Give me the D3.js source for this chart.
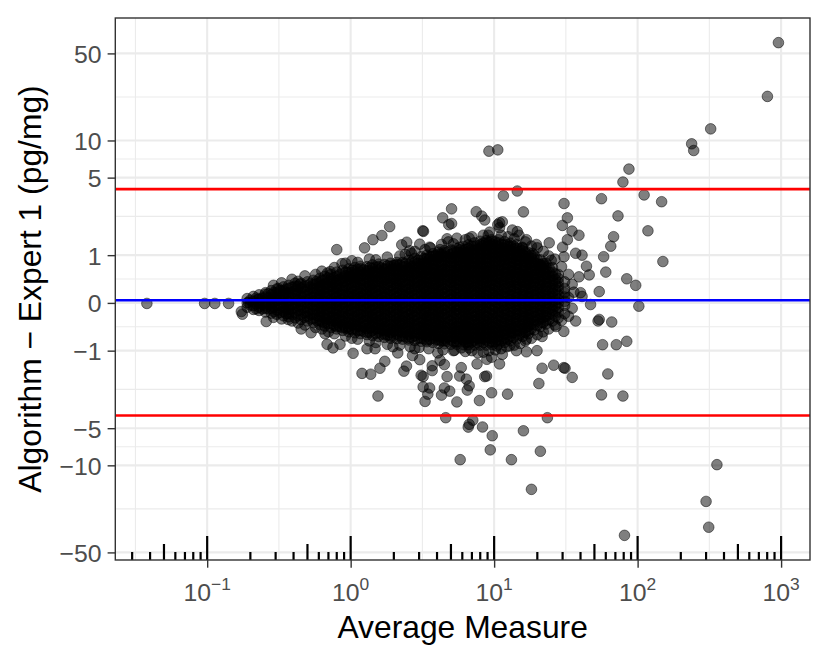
<!DOCTYPE html>
<html>
<head>
<meta charset="utf-8">
<script src="https://cdn.jsdelivr.net/npm/d3@7"></script>
<style>
  body { margin: 0; background: #fff; }
  svg { display: block; }
  text { font-family: "Liberation Sans", Arial, sans-serif; }
</style>
</head>
<body>
<div id="chart"></div>
<script>
// scattered points: [average measure, algorithm - expert 1]
const outliers = [
  [0.038,-0.01],[0.096,-0.01],[0.113,-0.01],[0.141,-0.01],[0.173,-0.16],[0.176,-0.21],[0.194,0.01],[0.224,0.06],
  [0.258,-0.35],[0.254,0.16],[0.313,0.27],[0.367,-0.31],[0.444,0.35],[0.452,-0.5],[0.53,-0.58],[0.663,-0.6],
  [0.685,-0.84],[0.753,-0.93],[0.843,-0.84],[0.8,1.15],[0.87,0.79],[0.72,0.61],[0.99,0.5],[1.04,-1.07],
  [1.2,-1.7],[1.38,-1.73],[1.6,-1.52],[1.73,-1.3],[1.55,-2.7],[1.3,-0.95],[1.97,-0.9],[1.25,1.2],
  [1.43,1.45],[1.65,1.59],[1.87,1.92],[2.03,0.75],[2.27,1.29],[2.46,1.37],[2.58,1.12],[3.18,1.76],
  [3.22,1.74],[3.55,1.22],[4.38,2.3],[5.05,2.75],[4.83,2.0],[5.5,1.5],[4.7,1.48],[6.7,1.5],
  [7.5,2.6],[8.2,2.38],[8.6,2.2],[9.2,8.2],[10.6,8.4],[11.6,3.54],[14.5,3.88],[16,2.59],
  [11.4,2.12],[10.6,2.0],[9.1,1.6],[13.4,1.79],[14.9,1.6],[16.8,1.45],[19.7,1.3],[24.2,1.35],
  [30.7,3.05],[32.4,2.3],[29.9,1.97],[34.9,1.75],[39,1.6],[56,3.35],[58,0.96],[60,0.6],
  [54,0.21],[44,0.73],[46,0.54],[41,1.0],[37,1.05],[21.5,0.73],[41,0.12],[47,-0.03],
  [40,0.19],[54,-0.31],[39,0.5],[20.7,0.76],[25,0.87],[30.7,0.96],[30,1.22],[32.4,1.45],
  [18.5,1.05],[15.7,1.22],[14.5,1.73],[10.9,1.88],[87,5.87],[79,4.6],[111,3.6],[147,3.16],
  [73,2.39],[118,1.76],[68,1.55],[65,1.25],[150,0.84],[84,0.46],[97,0.33],[102,-0.06],
  [958,61],[803,22.6],[323,12.4],[238,9.4],[246,8.3],[53,-0.34],[66,-0.36],[57,-0.85],
  [71,-0.85],[84,-0.77],[30.6,-1.5],[31.2,-1.52],[35,-1.85],[62,-1.72],[56,-2.64],[79,-2.7],
  [357,-9.87],[300,-19.5],[313,-31.4],[81,-36.5],[21.6,-1.52],[26,-1.42],[20.5,-2.1],[9.6,-2.53],
  [12.4,-2.6],[23.5,-4.1],[8.3,-4.89],[9.7,-5.76],[16,-5.25],[9.4,-7.5],[13.2,-9.0],[21,-7.7],
  [18.2,-15.6],[5.8,-9.0],[6.7,-4.65],[7.1,-4.3],[4.6,-4.1],[5.5,-3.03],[7.9,-2.95],[6.6,-4.9],
  [8.6,-1.82],[6.7,-2.2],[6.4,-1.92],[4.7,-1.82],[4.5,-2.3],[4.3,-2.65],[3.7,-1.44],[3.55,-2.3],
  [3.2,-2.25],[3.3,-3.0],[3.2,-1.82],[2.7,-1.13],[2.45,-1.45],[2.35,-1.62],[5.9,-0.93],[6.7,-0.93],
  [8.9,-1.24],[7.6,-1.38],[10.4,-0.88],[11.4,-1.1],[14.3,-1.0],[16.8,-1.03],[19.9,-1.0],[37,-0.34],
  [30.6,-0.55],[27,-0.45],[21.6,-0.66],[16.8,-0.72],[4.9,-2.45],[5.75,-1.8],[6.5,-2.4],[8.85,-1.8],
  [3.1,-1.77],[3.7,-1.6],[4.2,-1.27],[3.45,-2.6],[5.05,2.05],[9.3,1.71],[10.9,2.08],
  [1.48,-0.95],[2.13,-1.06],[2.8,-0.95],[4.05,-1.06],[5.3,-0.99],[7.7,-1.06],[9.6,-1.18],[12.8,-0.88],
  [3.03,-1.25],[4.5,-1.4],[5.9,-1.5],[10.9,-1.38],[2.8,1.1],[4.2,1.15],[5.75,1.22],[9.6,1.45],
  [4.0,0.96],[3.03,1.31]
];

// ragged fringe round the dense cloud
const fringe = [
  [0.29,0.33],[0.33,0.38],[0.39,0.45],[0.43,0.41],[0.48,0.52],[0.57,0.55],[0.63,0.62],[0.69,0.58],
  [0.77,0.7],[0.92,0.8],[1.02,0.86],[1.12,0.82],[1.35,0.9],[1.5,0.88],[1.8,0.95],[2.2,0.98],
  [2.4,1.02],[2.65,1.05],[3.3,1.15],[3.6,1.2],[4.3,1.3],[4.8,1.38],[5.2,1.32],[6.3,1.45],
  [7.0,1.55],[8.4,1.6],[11.2,1.6],[12.5,1.55],[13.8,1.48],[16.5,1.38],[18.2,1.25],[20,1.2],
  [22,1.1],[24,0.98],[26.5,0.9],[29.5,0.72],[33,0.55],[35,0.35],[33,0.1],[36,0.2],
  [0.29,-0.27],[0.33,-0.3],[0.39,-0.34],[0.43,-0.38],[0.48,-0.42],[0.57,-0.47],[0.63,-0.5],[0.7,-0.56],
  [0.77,-0.6],[0.92,-0.65],[1.02,-0.7],[1.12,-0.72],[1.35,-0.76],[1.5,-0.8],[1.8,-0.84],[2.2,-0.86],
  [2.6,-0.9],[3.0,-0.92],[3.5,-0.95],[4.4,-0.98],[5.2,-1.0],[6.3,-1.02],[7.0,-1.0],[8.4,-1.04],
  [9.2,-1.0],[10.2,-0.98],[11.2,-0.95],[12.2,-0.9],[13.8,-0.86],[15.2,-0.82],[16.5,-0.76],[18.2,-0.7],
  [20,-0.62],[22,-0.56],[24,-0.5],[26.5,-0.42],[29.5,-0.33],[33,-0.25],[35,-0.1]
];

// the dense black cloud, column by column: average measure and the differences stacked there
const coreAvg = [0.19,0.21,0.23,0.255,0.28,0.305,0.34,0.37,0.41,0.45,0.5,0.55,0.61,0.66,0.73,0.8,0.88,0.97,
  1.07,1.17,1.3,1.42,1.57,1.72,1.9,2.1,2.3,2.55,2.8,3.1,3.4,3.75,4.1,4.5,5.0,5.5,6.1,6.6,7.3,8.0,8.8,9.7,
  10.7,11.8,13,14.3,15.8,17.3,19,21,23,25.5,28,31];
const coreDiff = [
  [-0.08,0.0,0.08],
  [-0.12,-0.05,0.03,0.12],
  [-0.14,-0.08,0.0,0.07,0.15],
  [-0.17,-0.1,-0.04,0.03,0.11,0.19],
  [-0.19,-0.1,-0.02,0.07,0.15,0.23],
  [-0.21,-0.13,-0.05,0.04,0.11,0.19,0.26],
  [-0.24,-0.16,-0.08,0.0,0.07,0.15,0.23,0.3],
  [-0.26,-0.2,-0.12,-0.04,0.03,0.11,0.19,0.27,0.33],
  [-0.28,-0.18,-0.09,-0.01,0.07,0.16,0.23,0.31,0.37],
  [-0.31,-0.22,-0.13,-0.05,0.03,0.12,0.19,0.28,0.37],
  [-0.34,-0.25,-0.17,-0.09,0.0,0.07,0.15,0.24,0.32,0.4],
  [-0.37,-0.29,-0.21,-0.13,-0.05,0.03,0.11,0.19,0.27,0.35,0.43],
  [-0.41,-0.33,-0.25,-0.16,-0.09,-0.01,0.08,0.15,0.23,0.31,0.39,0.47],
  [-0.44,-0.37,-0.29,-0.21,-0.12,-0.05,0.03,0.11,0.2,0.27,0.35,0.43,0.51],
  [-0.47,-0.4,-0.33,-0.25,-0.17,-0.09,-0.01,0.07,0.15,0.24,0.31,0.39,0.47,0.55],
  [-0.5,-0.45,-0.37,-0.29,-0.21,-0.13,-0.04,0.03,0.11,0.19,0.28,0.35,0.43,0.51,0.6],
  [-0.53,-0.47,-0.41,-0.33,-0.25,-0.17,-0.09,0.0,0.07,0.15,0.23,0.31,0.4,0.47,0.55,0.64],
  [-0.56,-0.5,-0.45,-0.37,-0.29,-0.21,-0.13,-0.05,0.03,0.12,0.19,0.27,0.35,0.44,0.51,0.59,0.67],
  [-0.58,-0.49,-0.41,-0.33,-0.25,-0.16,-0.09,-0.01,0.07,0.15,0.23,0.32,0.39,0.47,0.55,0.63,0.7],
  [-0.6,-0.53,-0.45,-0.37,-0.29,-0.21,-0.13,-0.05,0.04,0.11,0.19,0.27,0.35,0.43,0.52,0.59,0.67,0.73],
  [-0.62,-0.57,-0.49,-0.41,-0.33,-0.25,-0.17,-0.09,-0.01,0.07,0.16,0.23,0.31,0.39,0.47,0.56,0.63,0.72],
  [-0.64,-0.53,-0.45,-0.37,-0.28,-0.21,-0.13,-0.05,0.03,0.11,0.2,0.27,0.35,0.43,0.51,0.59,0.68,0.76],
  [-0.66,-0.57,-0.49,-0.41,-0.33,-0.25,-0.17,-0.08,-0.01,0.07,0.15,0.23,0.31,0.4,0.47,0.55,0.63,0.72,0.78],
  [-0.68,-0.61,-0.53,-0.45,-0.37,-0.29,-0.21,-0.13,-0.04,0.03,0.11,0.19,0.27,0.35,0.44,0.51,0.59,0.67,0.77],
  [-0.7,-0.65,-0.57,-0.49,-0.41,-0.33,-0.24,-0.17,-0.09,-0.01,0.07,0.15,0.23,0.32,0.39,0.47,0.55,0.64,0.72,0.8],
  [-0.71,-0.61,-0.53,-0.45,-0.37,-0.29,-0.21,-0.12,-0.05,0.03,0.11,0.19,0.28,0.35,0.43,0.51,0.59,0.67,0.77,0.82],
  [-0.72,-0.65,-0.57,-0.49,-0.4,-0.33,-0.25,-0.17,-0.09,0.0,0.07,0.15,0.23,0.31,0.39,0.48,0.55,0.63,0.72,0.82],
  [-0.74,-0.7,-0.61,-0.53,-0.45,-0.36,-0.29,-0.21,-0.13,-0.05,0.03,0.12,0.19,0.27,0.35,0.43,0.52,0.59,0.67,0.77,0.87],
  [-0.75,-0.65,-0.57,-0.49,-0.41,-0.33,-0.25,-0.16,-0.09,-0.01,0.07,0.15,0.24,0.31,0.39,0.47,0.56,0.63,0.72,0.82,0.92],
  [-0.77,-0.7,-0.61,-0.53,-0.45,-0.37,-0.29,-0.2,-0.13,-0.05,0.03,0.11,0.19,0.28,0.35,0.43,0.51,0.6,0.67,0.77,0.87,0.96],
  [-0.78,-0.74,-0.65,-0.57,-0.49,-0.41,-0.32,-0.25,-0.17,-0.09,-0.01,0.08,0.15,0.23,0.31,0.39,0.47,0.55,0.64,0.72,0.82,0.92,1.0],
  [-0.8,-0.7,-0.61,-0.53,-0.45,-0.37,-0.29,-0.21,-0.13,-0.04,0.03,0.11,0.19,0.27,0.36,0.43,0.51,0.59,0.67,0.77,0.87,0.97,1.04],
  [-0.82,-0.74,-0.65,-0.57,-0.48,-0.41,-0.33,-0.25,-0.17,-0.09,-0.01,0.07,0.16,0.23,0.31,0.39,0.47,0.55,0.63,0.72,0.82,0.93,1.02,1.08],
  [-0.83,-0.76,-0.7,-0.61,-0.53,-0.45,-0.37,-0.28,-0.21,-0.13,-0.05,0.03,0.11,0.19,0.27,0.35,0.44,0.51,0.59,0.67,0.77,0.87,0.97,1.07,1.12],
  [-0.84,-0.74,-0.65,-0.57,-0.49,-0.41,-0.33,-0.24,-0.17,-0.09,-0.01,0.07,0.15,0.23,0.32,0.39,0.47,0.55,0.63,0.72,0.82,0.92,1.02,1.14],
  [-0.84,-0.78,-0.7,-0.61,-0.53,-0.45,-0.37,-0.29,-0.2,-0.13,-0.05,0.03,0.11,0.19,0.27,0.35,0.43,0.52,0.59,0.67,0.77,0.87,0.97,1.07,1.18],
  [-0.85,-0.74,-0.65,-0.57,-0.49,-0.41,-0.33,-0.25,-0.16,-0.09,-0.01,0.07,0.15,0.23,0.31,0.4,0.47,0.55,0.63,0.72,0.82,0.92,1.02,1.13,1.24],
  [-0.85,-0.78,-0.7,-0.61,-0.53,-0.45,-0.37,-0.29,-0.21,-0.12,-0.05,0.03,0.11,0.19,0.27,0.35,0.43,0.51,0.6,0.67,0.77,0.87,0.97,1.07,1.18,1.29],
  [-0.86,-0.74,-0.65,-0.57,-0.49,-0.41,-0.33,-0.25,-0.17,-0.08,-0.01,0.07,0.15,0.23,0.31,0.39,0.48,0.55,0.63,0.72,0.82,0.92,1.02,1.13,1.24,1.35],
  [-0.86,-0.78,-0.7,-0.61,-0.53,-0.45,-0.37,-0.29,-0.21,-0.13,-0.04,0.03,0.11,0.19,0.27,0.35,0.43,0.51,0.59,0.68,0.77,0.87,0.97,1.07,1.18,1.29,1.4],
  [-0.86,-0.74,-0.65,-0.57,-0.49,-0.41,-0.33,-0.25,-0.17,-0.09,0.0,0.07,0.15,0.23,0.31,0.39,0.47,0.56,0.63,0.72,0.82,0.92,1.02,1.13,1.24,1.35,1.42],
  [-0.85,-0.78,-0.7,-0.61,-0.53,-0.45,-0.37,-0.29,-0.21,-0.13,-0.05,0.04,0.11,0.19,0.27,0.35,0.43,0.51,0.59,0.67,0.76,0.87,0.97,1.07,1.18,1.29,1.4],
  [-0.84,-0.74,-0.65,-0.57,-0.49,-0.41,-0.33,-0.25,-0.17,-0.09,-0.01,0.08,0.15,0.23,0.31,0.39,0.47,0.55,0.64,0.72,0.82,0.92,1.02,1.13,1.24,1.35,1.45],
  [-0.8,-0.7,-0.61,-0.53,-0.45,-0.37,-0.29,-0.21,-0.13,-0.05,0.03,0.12,0.19,0.27,0.35,0.43,0.51,0.59,0.67,0.77,0.87,0.97,1.07,1.18,1.29,1.39],
  [-0.76,-0.65,-0.57,-0.49,-0.41,-0.33,-0.25,-0.17,-0.08,-0.01,0.07,0.15,0.23,0.31,0.39,0.47,0.55,0.63,0.72,0.82,0.92,1.02,1.13,1.24,1.34],
  [-0.72,-0.61,-0.53,-0.45,-0.37,-0.29,-0.21,-0.13,-0.05,0.03,0.11,0.19,0.28,0.35,0.43,0.51,0.59,0.67,0.77,0.87,0.97,1.07,1.18,1.29],
  [-0.66,-0.57,-0.49,-0.41,-0.33,-0.25,-0.17,-0.09,-0.01,0.07,0.15,0.23,0.31,0.39,0.47,0.55,0.63,0.72,0.82,0.92,1.02,1.12,1.2],
  [-0.6,-0.53,-0.45,-0.37,-0.29,-0.21,-0.13,-0.05,0.03,0.11,0.19,0.27,0.35,0.43,0.51,0.59,0.67,0.77,0.87,0.97,1.07],
  [-0.52,-0.41,-0.33,-0.25,-0.17,-0.09,-0.01,0.07,0.15,0.23,0.31,0.39,0.47,0.55,0.63,0.72,0.82,0.92,1.0],
  [-0.45,-0.37,-0.29,-0.21,-0.13,-0.05,0.03,0.11,0.19,0.27,0.35,0.43,0.51,0.59,0.67,0.77,0.88],
  [-0.4,-0.33,-0.25,-0.17,-0.09,-0.01,0.07,0.15,0.23,0.31,0.39,0.47,0.55,0.63,0.72,0.8],
  [-0.34,-0.21,-0.13,-0.05,0.03,0.11,0.19,0.27,0.35,0.43,0.51,0.6,0.7],
  [-0.28,-0.17,-0.09,0.0,0.07,0.15,0.24,0.31,0.39,0.47,0.55],
  [-0.2,-0.05,0.03,0.11,0.19,0.27,0.4]
];

// second layer of the cloud, between the columns above
const coreAvgB = [0.2,0.22,0.242,0.267,0.292,0.322,0.355,0.39,0.43,0.475,0.525,0.58,0.635,0.695,0.765,0.84,0.925,
  1.02,1.12,1.235,1.36,1.5,1.645,1.81,2.0,2.2,2.42,2.67,2.95,3.25,3.57,3.92,4.3,4.75,5.25,5.8,6.35,6.95,7.65,
  8.4,9.25,10.2,11.25,12.4,13.65,15.05,16.5,18.1,20,22,24.2,26.7];
const coreDiffB = [
  [-0.04,0.05],
  [-0.11,-0.02,0.09],
  [-0.11,-0.02,0.09],
  [-0.11,-0.02,0.09,0.17],
  [-0.16,-0.07,0.02,0.11,0.19],
  [-0.18,-0.1,-0.02,0.07,0.16,0.23],
  [-0.2,-0.11,-0.02,0.09,0.19,0.26],
  [-0.21,-0.11,-0.02,0.09,0.19,0.29],
  [-0.24,-0.14,-0.05,0.05,0.15,0.24,0.31],
  [-0.27,-0.18,-0.08,0.02,0.12,0.21,0.31],
  [-0.3,-0.21,-0.11,-0.02,0.09,0.19,0.29,0.36],
  [-0.33,-0.23,-0.13,-0.04,0.06,0.16,0.26,0.36,0.41],
  [-0.36,-0.26,-0.16,-0.07,0.03,0.13,0.23,0.33,0.43],
  [-0.39,-0.3,-0.2,-0.11,-0.01,0.09,0.19,0.29,0.38,0.48],
  [-0.42,-0.32,-0.22,-0.12,-0.02,0.08,0.18,0.28,0.38,0.48],
  [-0.45,-0.35,-0.25,-0.15,-0.05,0.05,0.15,0.25,0.35,0.45,0.55],
  [-0.48,-0.38,-0.28,-0.18,-0.08,0.02,0.12,0.22,0.32,0.42,0.52,0.6],
  [-0.51,-0.41,-0.31,-0.21,-0.11,-0.01,0.09,0.19,0.29,0.39,0.49,0.59,0.64],
  [-0.53,-0.43,-0.33,-0.23,-0.13,-0.03,0.07,0.17,0.27,0.37,0.47,0.57,0.66],
  [-0.55,-0.45,-0.35,-0.25,-0.15,-0.05,0.05,0.15,0.25,0.35,0.45,0.55,0.65],
  [-0.57,-0.47,-0.37,-0.27,-0.17,-0.07,0.03,0.13,0.23,0.33,0.43,0.53,0.63,0.7],
  [-0.59,-0.49,-0.39,-0.29,-0.19,-0.09,0.01,0.11,0.21,0.31,0.41,0.51,0.61,0.71],
  [-0.61,-0.51,-0.41,-0.31,-0.21,-0.11,-0.01,0.09,0.19,0.29,0.39,0.49,0.59,0.69],
  [-0.63,-0.53,-0.43,-0.33,-0.23,-0.13,-0.03,0.07,0.17,0.27,0.37,0.47,0.57,0.67,0.74],
  [-0.64,-0.54,-0.44,-0.34,-0.24,-0.14,-0.04,0.06,0.16,0.26,0.36,0.46,0.56,0.66,0.75],
  [-0.65,-0.55,-0.45,-0.35,-0.25,-0.15,-0.05,0.05,0.15,0.25,0.35,0.45,0.55,0.65,0.76],
  [-0.67,-0.57,-0.47,-0.37,-0.27,-0.17,-0.07,0.03,0.13,0.23,0.33,0.43,0.53,0.63,0.73,0.8],
  [-0.68,-0.58,-0.48,-0.38,-0.28,-0.18,-0.08,0.02,0.12,0.22,0.32,0.42,0.52,0.62,0.72,0.83],
  [-0.7,-0.6,-0.5,-0.4,-0.3,-0.2,-0.1,0.0,0.1,0.2,0.3,0.4,0.5,0.6,0.7,0.8,0.87],
  [-0.71,-0.61,-0.51,-0.41,-0.31,-0.21,-0.11,-0.01,0.09,0.19,0.29,0.39,0.49,0.59,0.69,0.8,0.91],
  [-0.72,-0.62,-0.52,-0.42,-0.32,-0.22,-0.12,-0.02,0.08,0.18,0.28,0.38,0.48,0.58,0.68,0.79,0.9,0.96],
  [-0.74,-0.64,-0.54,-0.44,-0.34,-0.24,-0.14,-0.04,0.06,0.16,0.26,0.36,0.46,0.56,0.66,0.77,0.88,0.99],
  [-0.76,-0.66,-0.56,-0.46,-0.36,-0.26,-0.16,-0.06,0.04,0.14,0.24,0.34,0.44,0.54,0.64,0.75,0.86,0.97,1.03],
  [-0.77,-0.67,-0.57,-0.47,-0.37,-0.27,-0.17,-0.07,0.03,0.13,0.23,0.33,0.43,0.53,0.63,0.74,0.85,0.96,1.07],
  [-0.78,-0.68,-0.58,-0.48,-0.38,-0.28,-0.18,-0.08,0.02,0.12,0.22,0.32,0.42,0.52,0.62,0.73,0.84,0.95,1.06,1.11],
  [-0.78,-0.68,-0.58,-0.48,-0.38,-0.28,-0.18,-0.08,0.02,0.12,0.22,0.32,0.42,0.52,0.62,0.73,0.84,0.95,1.06,1.15],
  [-0.79,-0.69,-0.59,-0.49,-0.39,-0.29,-0.19,-0.09,0.01,0.11,0.21,0.31,0.41,0.51,0.61,0.72,0.83,0.94,1.05,1.16],
  [-0.79,-0.69,-0.59,-0.49,-0.39,-0.29,-0.19,-0.09,0.01,0.11,0.21,0.31,0.41,0.51,0.61,0.72,0.83,0.94,1.05,1.16,1.25],
  [-0.8,-0.7,-0.6,-0.5,-0.4,-0.3,-0.2,-0.1,0.0,0.1,0.2,0.3,0.4,0.5,0.6,0.71,0.82,0.93,1.04,1.15,1.27],
  [-0.8,-0.7,-0.6,-0.5,-0.4,-0.3,-0.2,-0.1,0.0,0.1,0.2,0.3,0.4,0.5,0.6,0.71,0.82,0.93,1.04,1.15,1.26,1.34],
  [-0.79,-0.69,-0.59,-0.49,-0.39,-0.29,-0.19,-0.09,0.01,0.11,0.21,0.31,0.41,0.51,0.61,0.72,0.83,0.94,1.05,1.16,1.27,1.36],
  [-0.78,-0.68,-0.58,-0.48,-0.38,-0.28,-0.18,-0.08,0.02,0.12,0.22,0.32,0.42,0.52,0.62,0.73,0.84,0.95,1.06,1.17,1.28,1.38],
  [-0.76,-0.66,-0.56,-0.46,-0.36,-0.26,-0.16,-0.06,0.04,0.14,0.24,0.34,0.44,0.54,0.64,0.75,0.86,0.97,1.08,1.19,1.3],
  [-0.72,-0.62,-0.52,-0.42,-0.32,-0.22,-0.12,-0.02,0.08,0.18,0.28,0.38,0.48,0.58,0.68,0.79,0.9,1.01,1.12,1.23,1.3],
  [-0.68,-0.58,-0.48,-0.38,-0.28,-0.18,-0.08,0.02,0.12,0.22,0.32,0.42,0.52,0.62,0.72,0.83,0.94,1.05,1.16,1.25],
  [-0.63,-0.53,-0.43,-0.33,-0.23,-0.13,-0.03,0.07,0.17,0.27,0.37,0.47,0.57,0.67,0.78,0.89,1.0,1.1,1.18],
  [-0.57,-0.47,-0.37,-0.27,-0.17,-0.07,0.03,0.13,0.23,0.33,0.43,0.53,0.63,0.74,0.85,0.96,1.07],
  [-0.5,-0.4,-0.3,-0.2,-0.1,0.0,0.1,0.2,0.3,0.4,0.5,0.6,0.71,0.82,0.93,0.99],
  [-0.43,-0.33,-0.23,-0.13,-0.03,0.07,0.17,0.27,0.37,0.47,0.57,0.68,0.79,0.88],
  [-0.37,-0.27,-0.17,-0.07,0.03,0.13,0.23,0.33,0.43,0.53,0.64,0.75,0.8],
  [-0.31,-0.21,-0.11,-0.01,0.09,0.19,0.29,0.39,0.49,0.6,0.69],
  [-0.25,-0.15,-0.05,0.05,0.15,0.25,0.35,0.45,0.56]
];

// bias and limits of agreement
const meanDiff = 0.05;
const upperLimit = 4.02;
const lowerLimit = -3.93;

const yBreaks = [-50, -10, -5, -1, 0, 1, 5, 10, 50];
const xExponents = [-1, 0, 1, 2, 3];

const width = 830, height = 664;
const panel = { left: 115.3, right: 810, top: 18, bottom: 560 };

const stack = (avg, diffs) => avg.flatMap((a, i) => diffs[i].map(d => [a, d]));
const points = outliers.concat(fringe, stack(coreAvg, coreDiff), stack(coreAvgB, coreDiffB));

// x: log10, y: inverse hyperbolic sine, both padded 5% like ggplot
const lx = d3.extent(points, d => Math.log10(d[0]));
const px = (lx[1] - lx[0]) * 0.05;
const x = d3.scaleLog()
    .domain([10 ** (lx[0] - px), 10 ** (lx[1] + px)])
    .range([panel.left, panel.right]);

const ay = d3.extent(points, d => Math.asinh(d[1]));
const py = (ay[1] - ay[0]) * 0.05;
const yA = d3.scaleLinear()
    .domain([ay[0] - py, ay[1] + py])
    .range([panel.bottom, panel.top]);
const y = v => yA(Math.asinh(v));

const svg = d3.select("#chart").append("svg")
    .attr("width", width)
    .attr("height", height);

svg.append("rect").attr("width", width).attr("height", height).attr("fill", "#fff");

// grid
const grid = svg.append("g");
const yMinor = d3.pairs(yBreaks.map(Math.asinh)).map(([a, b]) => (a + b) / 2);
const xMinor = d3.pairs([-2].concat(xExponents)).map(([a, b]) => 10 ** ((a + b) / 2))
    .filter(v => v >= x.domain()[0] && v <= x.domain()[1]);

grid.selectAll(".ymin").data(yMinor).join("line")
    .attr("x1", panel.left).attr("x2", panel.right)
    .attr("y1", d => yA(d)).attr("y2", d => yA(d))
    .attr("stroke", "#ebebeb").attr("stroke-width", 1.1);
grid.selectAll(".xmin").data(xMinor).join("line")
    .attr("y1", panel.top).attr("y2", panel.bottom)
    .attr("x1", d => x(d)).attr("x2", d => x(d))
    .attr("stroke", "#ebebeb").attr("stroke-width", 1.1);
grid.selectAll(".ymaj").data(yBreaks).join("line")
    .attr("x1", panel.left).attr("x2", panel.right)
    .attr("y1", d => y(d)).attr("y2", d => y(d))
    .attr("stroke", "#ebebeb").attr("stroke-width", 2.1);
grid.selectAll(".xmaj").data(xExponents).join("line")
    .attr("y1", panel.top).attr("y2", panel.bottom)
    .attr("x1", d => x(10 ** d)).attr("x2", d => x(10 ** d))
    .attr("stroke", "#ebebeb").attr("stroke-width", 2.1);

// points
svg.append("g").selectAll("circle").data(points).join("circle")
    .attr("cx", d => x(d[0]))
    .attr("cy", d => y(d[1]))
    .attr("r", 5.3)
    .attr("fill", "rgba(0,0,0,0.5)")
    .attr("stroke", "rgba(0,0,0,0.5)")
    .attr("stroke-width", 1);

// mean and limits
const hlines = [
    { v: upperLimit, c: "#ff0000" },
    { v: lowerLimit, c: "#ff0000" },
    { v: meanDiff, c: "#0000ff" }
];
svg.append("g").selectAll("line").data(hlines).join("line")
    .attr("x1", panel.left).attr("x2", panel.right)
    .attr("y1", d => y(d.v)).attr("y2", d => y(d.v))
    .attr("stroke", d => d.c)
    .attr("stroke-width", 2.6);

// log ticks along the bottom of the panel
const logTicks = [];
for (let k = -2; k <= 3; k++) {
    for (let m = 1; m <= 9; m++) {
        const v = m * 10 ** k;
        if (v >= x.domain()[0] && v <= x.domain()[1]) logTicks.push({ v, len: m === 1 ? 24 : m === 5 ? 16 : 8 });
    }
}
svg.append("g").selectAll("line").data(logTicks).join("line")
    .attr("x1", d => x(d.v)).attr("x2", d => x(d.v))
    .attr("y1", panel.bottom).attr("y2", d => panel.bottom - d.len)
    .attr("stroke", "#000")
    .attr("stroke-width", 2.2);

// panel border
svg.append("rect")
    .attr("x", panel.left).attr("y", panel.top)
    .attr("width", panel.right - panel.left)
    .attr("height", panel.bottom - panel.top)
    .attr("fill", "none")
    .attr("stroke", "#333333")
    .attr("stroke-width", 1.4);

// y axis
const yAxis = svg.append("g")
    .attr("transform", `translate(${panel.left},0)`)
    .call(d3.axisLeft(yA)
        .tickValues(yBreaks.map(Math.asinh))
        .tickSize(7.7)
        .tickPadding(6)
        .tickFormat(a => {
            const t = Math.round(Math.sinh(a));
            return t < 0 ? "\u2212" + Math.abs(t) : String(t);
        }));
yAxis.select(".domain").remove();
yAxis.selectAll(".tick line").attr("stroke", "#333333").attr("stroke-width", 1.4);
yAxis.selectAll(".tick text")
    .attr("fill", "#4d4d4d")
    .attr("dy", "0.36em")
    .style("font-size", "24.8px")
    .style("font-family", "'Liberation Sans', Arial, sans-serif");

// x axis with 10^k labels
const xAxis = svg.append("g")
    .attr("transform", `translate(0,${panel.bottom})`)
    .call(d3.axisBottom(x)
        .tickValues(xExponents.map(e => 10 ** e))
        .tickSize(7.7)
        .tickFormat(""));
xAxis.select(".domain").remove();
xAxis.selectAll(".tick line").attr("stroke", "#333333").attr("stroke-width", 1.4);

const xLabels = svg.append("g").selectAll("text").data(xExponents).join("text")
    .attr("x", d => x(10 ** d))
    .attr("y", 601)
    .attr("text-anchor", "middle")
    .attr("fill", "#4d4d4d")
    .style("font-size", "24.8px");
xLabels.append("tspan").text("10");
xLabels.append("tspan")
    .attr("dy", -11)
    .style("font-size", "17.4px")
    .text(d => d < 0 ? "\u2212" + Math.abs(d) : String(d));

// titles
svg.append("text")
    .attr("x", (panel.left + panel.right) / 2)
    .attr("y", 638)
    .attr("text-anchor", "middle")
    .attr("fill", "#000")
    .style("font-size", "31.8px")
    .text("Average Measure");

svg.append("text")
    .attr("transform", `translate(41,${(panel.top + panel.bottom) / 2}) rotate(-90)`)
    .attr("text-anchor", "middle")
    .attr("fill", "#000")
    .style("font-size", "31.8px")
    .text("Algorithm \u2212 Expert 1 (pg/mg)");
</script>
</body>
</html>
